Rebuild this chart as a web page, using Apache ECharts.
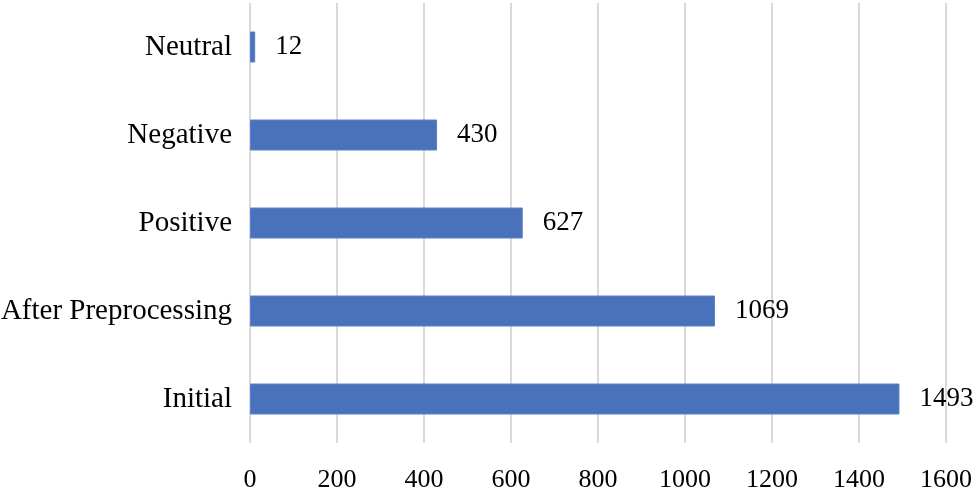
<!DOCTYPE html>
<html>
<head>
<meta charset="utf-8">
<script src="https://cdn.jsdelivr.net/npm/echarts@6/dist/echarts.min.js"></script>
<style>
    html, body { margin: 0; padding: 0; background: #fff; }
    #chart { width: 980px; height: 491px; }
</style>
</head>
<body>
<div id="chart"></div>
<script>
// bottom to top, as on the picture
const categories = ['Initial', 'After Preprocessing', 'Positive', 'Negative', 'Neutral'];
const counts = [1493, 1069, 627, 430, 12];
const xTicks = [0, 200, 400, 600, 800, 1000, 1200, 1400, 1600];

const chart = echarts.init(document.getElementById('chart'));

chart.setOption({
    animation: false,
    textStyle: {
        fontFamily: '"Liberation Serif", "Times New Roman", serif'
    },
    grid: {
        left: 250,
        right: 34,
        top: 3,
        bottom: 48,
        outerBoundsMode: 'none' // keep the plot box where it is
    },
    xAxis: {
        type: 'value',
        min: xTicks[0],
        max: xTicks[xTicks.length - 1],
        interval: 200,
        axisLine: { show: false },
        axisTick: { show: false },
        axisLabel: {
            color: '#000',
            fontSize: 26,
            margin: 24,
            formatter: v => String(v) // no thousands separator
        },
        splitLine: {
            lineStyle: { color: '#d9d9d9', width: 2 }
        }
    },
    yAxis: {
        type: 'category',
        data: categories,
        axisLine: { show: false },
        axisTick: { show: false },
        axisLabel: {
            color: '#000',
            fontSize: 29,
            margin: 18
        }
    },
    series: [
        {
            type: 'bar',
            data: counts,
            barWidth: 31,
            itemStyle: {
                color: '#4a72ba',
                borderColor: '#5a82c8',
                borderWidth: 1
            },
            label: {
                show: true,
                position: 'right',
                distance: 20,
                color: '#000',
                fontSize: 27
            }
        }
    ]
});
</script>
</body>
</html>
